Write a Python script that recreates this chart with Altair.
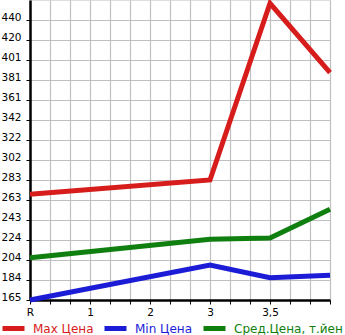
import altair as alt
import pandas as pd

# Data
x_labels = ["R", "1", "2", "3", "3,5"]
x_pos = [0, 3, 4, 5]
max_price = [268.8, 282.9, 456.4, 388.3]
min_price = [165.0, 199.4, 186.9, 189.3]
avg_price = [206.5, 224.6, 225.9, 254.1]
series_names = ["Max Цена", "Min Цена", "Сред.Цена, т.йен"]
series_colors = ["#d71c1c", "#1c1cd7", "#0f7f0f"]
y_labels = ["165", "184", "204", "224", "243", "263", "283", "302", "322",
            "342", "361", "381", "401", "420", "440"]

step = (440 - 165) / 14.0
y_top = 165 + 15 * step

rows = []
for name, vals in zip(series_names, [max_price, min_price, avg_price]):
    for xp, v in zip(x_pos, vals):
        rows.append({"x": xp, "y": v, "series": name})
df = pd.DataFrame(rows)

y_ticks = [165 + k * step for k in range(15)]
x_ticks = [k / 3.0 for k in range(16)]

y_label_arr = "[" + ",".join("'%s'" % s for s in y_labels) + "]"
x_label_arr = "[" + ",".join("'%s'" % s for s in x_labels) + "]"

label_color_expr = (
    "datum.label == '%s' ? '%s' : (datum.label == '%s' ? '%s' : '%s')"
    % (series_names[0], series_colors[0], series_names[1], series_colors[1], series_colors[2])
)

chart = alt.Chart(df).mark_line(strokeWidth=5).encode(
    x=alt.X("x:Q", scale=alt.Scale(domain=[0, 5], nice=False, zero=False),
            axis=alt.Axis(values=x_ticks, title=None,
                          labelExpr="abs(datum.value - round(datum.value)) < 0.01 && round(datum.value) < 5 ? "
                                    + x_label_arr + "[round(datum.value)] : ''",
                          labelFont="DejaVu Sans", labelFontSize=10.5, labelColor="#000",
                          grid=True, gridColor="#c0c0c0", gridWidth=1.2,
                          domainColor="#000", domainWidth=2.5,
                          tickColor="#000", tickSize=4, labelPadding=3,
                          labelFlush=False, labelOverlap=False)),
    y=alt.Y("y:Q", scale=alt.Scale(domain=[165, y_top], nice=False, zero=False),
            axis=alt.Axis(values=y_ticks, title=None,
                          labelExpr=y_label_arr + "[round((datum.value - 165) / " + repr(step) + ")]",
                          labelFont="DejaVu Sans", labelFontSize=10.5, labelColor="#000",
                          grid=True, gridColor="#c0c0c0", gridWidth=1.2,
                          domainColor="#000", domainWidth=2.5,
                          tickColor="#000", tickSize=4, labelPadding=5,
                          labelFlush=False, labelOverlap=False, labelBaseline="alphabetic")),
    color=alt.Color("series:N",
                    scale=alt.Scale(domain=series_names, range=series_colors),
                    sort=series_names,
                    legend=alt.Legend(title=None, orient="none", direction="horizontal",
                                      legendX=-30, legendY=315, gridAlign="none",
                                      symbolType="stroke", symbolSize=484, symbolStrokeWidth=5,
                                      labelFont="DejaVu Sans", labelFontSize=12,
                                      labelColor=alt.ExprRef(label_color_expr),
                                      columnPadding=0, labelOffset=6, labelLimit=200)),
    detail="series:N",
).properties(
    width=300, height=300,
    padding={"left": 30, "top": 0, "right": 15, "bottom": 35},
    autosize="none",
).configure_view(fill="#f6f6f6", stroke=None).configure(background="#ffffff")

chart.save("out.html", embed_options={"renderer": "svg", "actions": False})
